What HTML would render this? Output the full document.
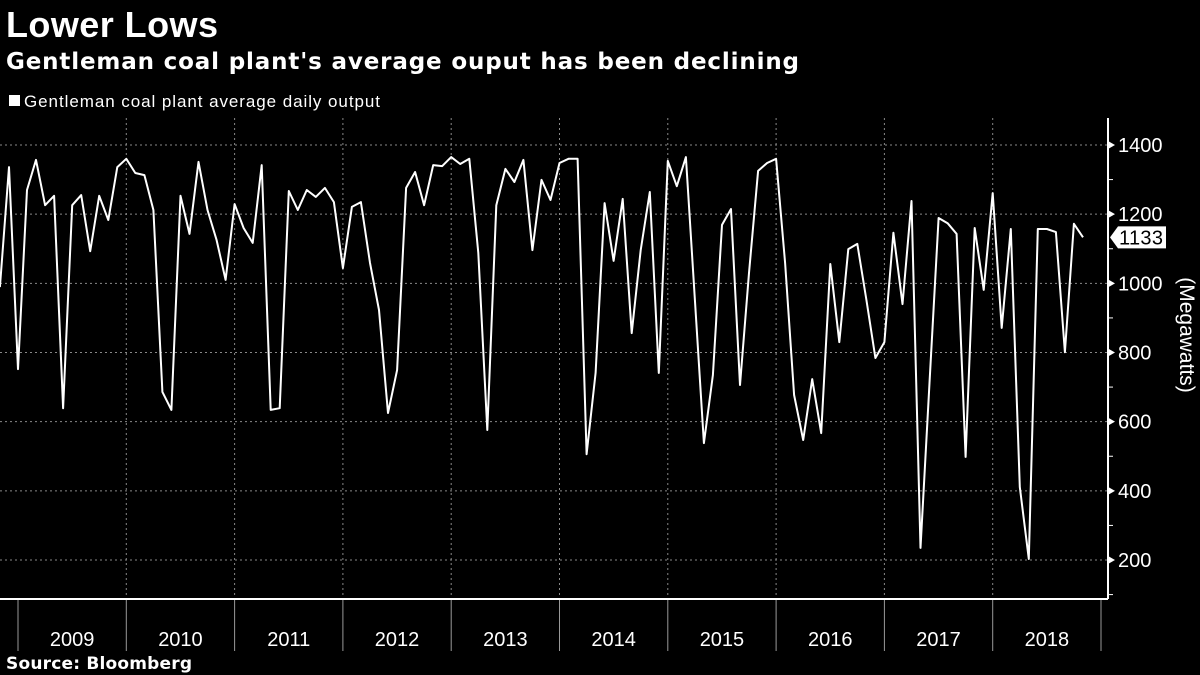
<!DOCTYPE html>
<html><head><meta charset="utf-8"><style>
body{margin:0;background:#000;width:1200px;height:675px;overflow:hidden;font-family:"Liberation Sans","DejaVu Sans",sans-serif;color:#fff}
svg{position:absolute;left:0;top:0}
</style></head><body>
<svg width="1200" height="675">
<text x="6" y="37" font-size="36" font-weight="bold" fill="#fff" textLength="212">Lower Lows</text>
<text x="6" y="69" font-size="23" font-weight="bold" fill="#fff" font-family="DejaVu Sans, sans-serif" textLength="793">Gentleman coal plant's average ouput has been declining</text>
<rect x="9" y="95" width="11" height="11" fill="#fff"/>
<text x="24" y="107" font-size="17" fill="#fff" textLength="356">Gentleman coal plant average daily output</text>
<g id="grid"></g><g id="axes"></g>
<polyline id="line" fill="none" stroke="#fff" stroke-width="2" stroke-linejoin="round"/>
<g id="lastlabel"></g>
<text x="1180" y="335" font-size="21" fill="#fff" transform="rotate(90 1180 335)" text-anchor="middle">(Megawatts)</text>
<text x="6" y="669" font-size="17" font-weight="bold" fill="#fff" font-family="DejaVu Sans, sans-serif" textLength="186">Source: Bloomberg</text>
</svg>
<script>
const startYear = 2008, startMonth = 10; // Nov 2008 (0-based month)
const outputValues = [989,1336,752,1270,1357,1226,1253,639,1226,1255,1093,1253,1183,1336,1360,1319,1313,1212,686,634,1253,1143,1351,1212,1125,1010,1229,1160,1117,1342,634,639,1267,1212,
1270,1250,1276,1235,1044,1221,1235,1059,923,625,749,1276,1322,1226,1342,1339,1365,1345,1360,1088,576,1226,1331,1293,1357,1096,1299,1241,1348,1360,1360,506,
741,1232,1065,1244,856,1096,1264,741,1354,1281,1365,952,538,735,1169,1215,706,1030,1325,1348,1360,1059,677,547,723,567,1056,830,1099,1114,
952,784,830,1146,940,1238,235,712,1189,1174,1143,498,1160,981,1261,871,1157,411,203,1157,1157,1148,801,1172,1133];
const yTicks = [200,400,600,800,1000,1200,1400];
const yearLabels = ["2009","2010","2011","2012","2013","2014","2015","2016","2017","2018"];
const NS="http://www.w3.org/2000/svg";
const X0=18, PXM=9.025, AXR=1108, TOP=118, BOT=599;
function xScale(monthsSinceJan2009){return X0+monthsSinceJan2009*PXM;}
function yScale(v){return 145+(1400-v)*(415/1200);}
function mk(tag,attrs,parent){const e=document.createElementNS(NS,tag);for(const k in attrs)e.setAttribute(k,attrs[k]);parent.appendChild(e);return e;}
const grid=document.getElementById('grid'), axes=document.getElementById('axes');
yTicks.forEach(t=>{
  const y=yScale(t);
  const g=mk('line',{x1:0,x2:AXR,y1:y,y2:y,stroke:'#888','stroke-width':1,'stroke-dasharray':'2,3'},grid);
  
  
  const tri=mk('path',{d:`M${AXR},${y-4}L${AXR+7},${y}L${AXR},${y+4}Z`,fill:'#fff'},axes);
  
  
  const lb=mk('text',{x:AXR+10,y:y+7,'font-size':20,fill:'#fff'},axes);
  lb.textContent=t;
  
  
});
for(let v=100;v<=1500;v+=200){const y=yScale(v);if(y<TOP||y>BOT)continue;
  const m=mk('line',{x1:AXR,x2:AXR+5,y1:y,y2:y,stroke:'#fff','stroke-width':1},axes);
  
  }
for(let i=0;i<=yearLabels.length;i++){
  const x=xScale(i*12);
  if(i>0 && i<yearLabels.length){const g=mk('line',{x1:x,x2:x,y1:TOP,y2:BOT,stroke:'#888','stroke-width':1,'stroke-dasharray':'2,3'},grid);
    
    }
  const t=mk('line',{x1:x,x2:x,y1:BOT,y2:651,stroke:'#999','stroke-width':1},axes);
  
  
  if(i<yearLabels.length){const lb=mk('text',{x:x+PXM*6,y:646,'font-size':20,fill:'#fff','text-anchor':'middle'},axes);
    lb.textContent=yearLabels[i];
    
    }
}
const ax=mk('line',{x1:0,x2:AXR,y1:BOT,y2:BOT,stroke:'#fff','stroke-width':2},axes);


const ay=mk('line',{x1:AXR,x2:AXR,y1:TOP,y2:BOT,stroke:'#fff','stroke-width':2},axes);


const pts=outputValues.map((v,i)=>{const m=(startYear-2009)*12+startMonth+i;return xScale(m).toFixed(1)+','+yScale(v).toFixed(1);});
document.getElementById('line').setAttribute('points',pts.join(' '));
const last=outputValues[outputValues.length-1], ly=yScale(last);
const ll=document.getElementById('lastlabel');
const bx=mk('path',{d:`M1110,${ly}L1118,${ly-11}L1166,${ly-11}L1166,${ly+11}L1118,${ly+11}Z`,fill:'#fff'},ll);


const lt=mk('text',{x:1119,y:ly+7,'font-size':20,fill:'#000',textLength:44},ll);
lt.textContent=last;


</script>
</body></html>
